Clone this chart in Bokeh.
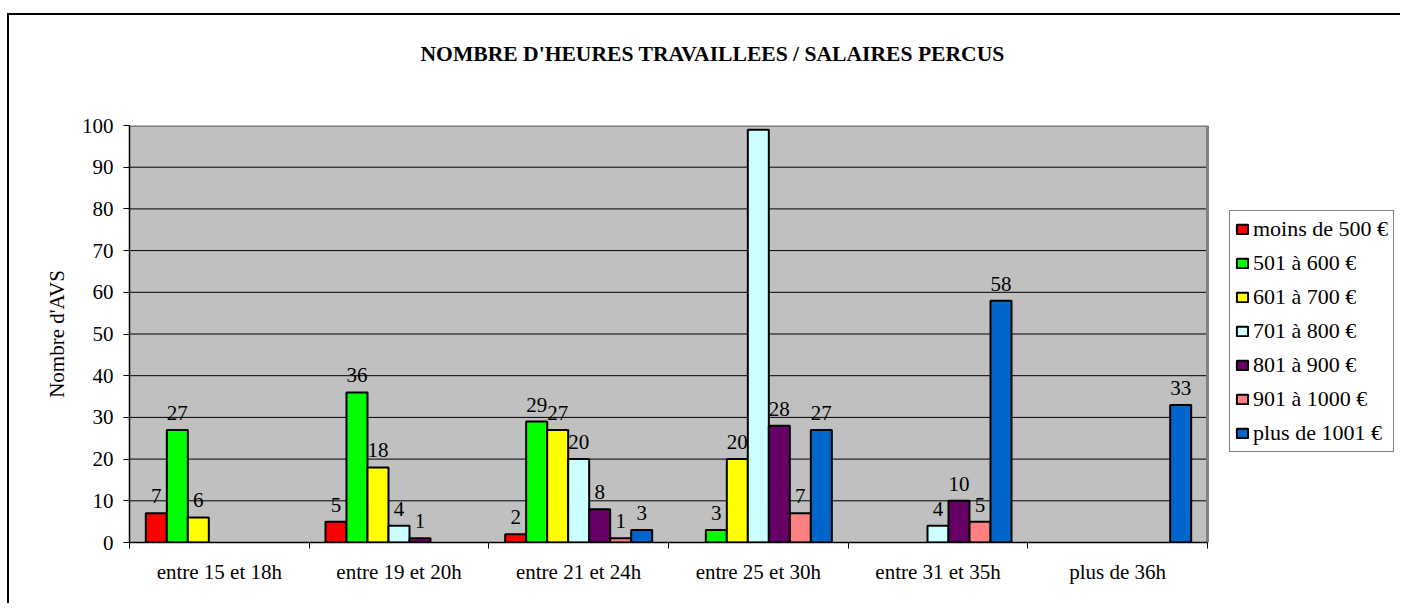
from bokeh.plotting import figure
from bokeh.models import (ColumnDataSource, Range1d, FixedTicker, Legend, LegendItem, Title)
from bokeh.core.properties import value
from bokeh.embed import file_html
from bokeh.resources import INLINE

categories = ["entre 15 et 18h", "entre 19 et 20h", "entre 21 et 24h",
              "entre 25 et 30h", "entre 31 et 35h", "plus de 36h"]
series_names = ["moins de 500 €", "501 à 600 €", "601 à 700 €", "701 à 800 €",
                "801 à 900 €", "901 à 1000 €", "plus de 1001 €"]
moins_500 = [7, 5, 2, 0, 0, 0]
s501_600 = [27, 36, 29, 3, 0, 0]
s601_700 = [6, 18, 27, 20, 0, 0]
s701_800 = [0, 4, 20, 99, 4, 0]
s801_900 = [0, 1, 8, 28, 10, 0]
s901_1000 = [0, 0, 1, 7, 5, 0]
plus_1001 = [0, 0, 3, 27, 58, 33]
series_values = [moins_500, s501_600, s601_700, s701_800, s801_900, s901_1000, plus_1001]
colors = ["#ff0000", "#00ff00", "#ffff00", "#ccffff", "#660066", "#ff8080", "#0066cc"]
y_ticks = [0, 10, 20, 30, 40, 50, 60, 70, 80, 90, 100]
title_text = "NOMBRE D'HEURES TRAVAILLEES / SALAIRES PERCUS"
y_label = "Nombre d'AVS"

FONT = "Liberation Serif"
FS = "21px"

W, H = 1393, 590
LEFT, TOP, BOTTOM = 120, 110, 63
PLOT_PX = 1078                       # width of the grey plotting area in px
ncat = len(categories)
frame_w = W - LEFT
x_end = ncat * frame_w / PLOT_PX     # frame also hosts the legend on the right
ymax = y_ticks[-1]

p = figure(width=W, height=H, x_range=Range1d(0, x_end),
           y_range=Range1d(0, ymax), output_backend="svg", toolbar_location=None,
           min_border_left=LEFT, min_border_top=TOP, min_border_right=0,
           min_border_bottom=BOTTOM, background_fill_color="white",
           border_fill_color="white")
p.title = None
# spacer panel (closest to the frame), then the real title above it
p.add_layout(Title(text=" ", text_font=FONT, text_font_size=FS, standoff=34), "above")
p.add_layout(Title(text=title_text, align="left", offset=291, text_font=FONT,
                   text_font_size="21.6px", text_font_style="bold", standoff=0,
                   text_color="black"), "above")

p.outline_line_color = None
p.xgrid.visible = False
p.ygrid.visible = False

# grey plotting area, grid lines and its grey top/right border
p.quad(left=0, right=ncat, bottom=0, top=ymax, fill_color="#c0c0c0", line_color=None)
p.segment(x0=[0] * (len(y_ticks) - 2), x1=[ncat] * (len(y_ticks) - 2),
          y0=y_ticks[1:-1], y1=y_ticks[1:-1], line_color="black", line_width=1)
p.segment(x0=[0, ncat], x1=[ncat, ncat], y0=[ymax, 0], y1=[ymax, ymax],
          line_color="#808080", line_width=3)

# x axis
xa = p.xaxis[0]
xa.bounds = (0, ncat)
xa.ticker = FixedTicker(ticks=[i + 0.5 for i in range(ncat)],
                        minor_ticks=list(range(ncat + 1)))
xa.major_label_overrides = {i + 0.5: c for i, c in enumerate(categories)}
xa.major_tick_line_color = None
xa.minor_tick_line_color = "black"
xa.minor_tick_in = 0
xa.minor_tick_out = 6
xa.axis_line_color = "black"
xa.axis_line_width = 1.5
xa.major_label_standoff = 11
xa.major_label_text_font = FONT
xa.major_label_text_font_size = FS
xa.major_label_text_color = "black"

# y axis
ya = p.yaxis[0]
ya.ticker = FixedTicker(ticks=y_ticks)
ya.minor_tick_line_color = None
ya.major_tick_in = 0
ya.major_tick_out = 6
ya.major_tick_line_color = "black"
ya.axis_line_color = "black"
ya.axis_line_width = 1.5
ya.major_label_standoff = 10
ya.major_label_text_font = FONT
ya.major_label_text_font_size = FS
ya.major_label_text_color = "black"
ya.axis_label = y_label
ya.axis_label_text_font = FONT
ya.axis_label_text_font_size = FS
ya.axis_label_text_font_style = "normal"
ya.axis_label_text_color = "black"
ya.axis_label_standoff = 10

n = len(series_names)
bar_w = 0.1169
margin = (1 - n * bar_w) / 2

items = []
for si, (name, vals, col) in enumerate(zip(series_names, series_values, colors)):
    xs, ys, labels = [], [], []
    for ci, v in enumerate(vals):
        if v:
            xs.append(ci + margin + (si + 0.5) * bar_w)
            ys.append(v)
            labels.append(str(v))
    src = ColumnDataSource(dict(x=xs, top=ys, label=labels))
    r = p.vbar(x="x", top="top", bottom=0, width=bar_w, source=src,
               fill_color=col, line_color="black", line_width=2)
    p.text(x="x", y="top", text="label", source=src, text_align="center",
           text_baseline="alphabetic", y_offset=-17, text_font=value(FONT),
           text_font_size=value(FS), text_color="black")
    items.append(LegendItem(label=name, renderers=[r]))

legend = Legend(items=items, location=(PLOT_PX + 22, 90), orientation="vertical",
                glyph_width=14, glyph_height=12, label_standoff=4,
                label_text_font=FONT, label_text_font_size="22px",
                label_text_color="black", label_height=20, spacing=8,
                padding=5, margin=0, border_line_color="black",
                border_line_width=1, background_fill_color="white",
                background_fill_alpha=1)
p.add_layout(legend)

p.styles = {"margin-top": "13px", "margin-left": "7px",
            "border-left": "2px solid black", "border-top": "2px solid black"}

open("out.html", "w").write(file_html(p, INLINE))
